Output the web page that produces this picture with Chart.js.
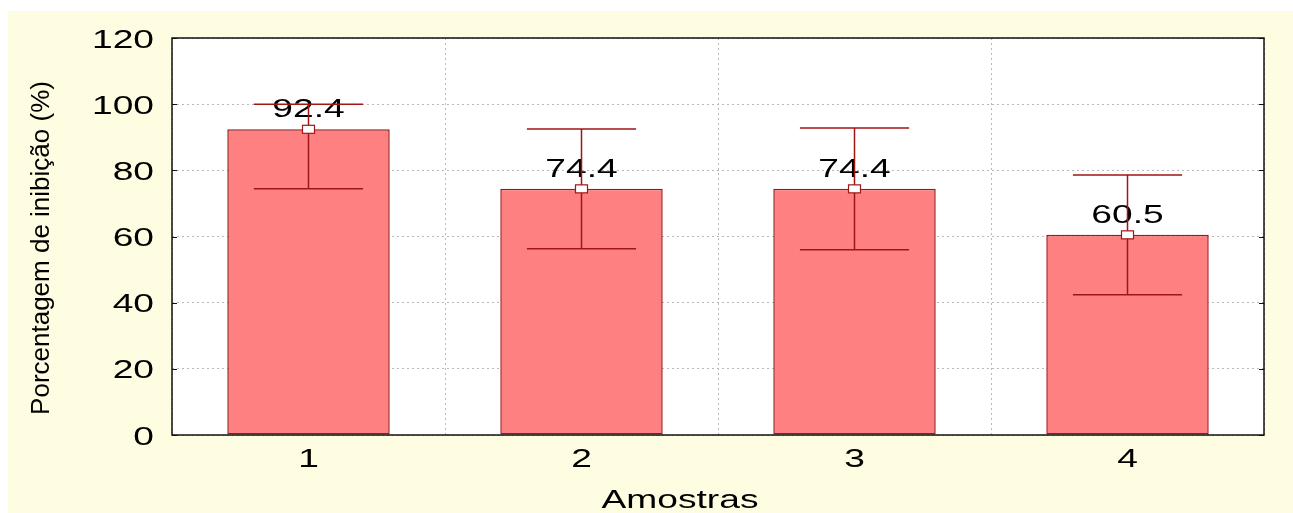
<!DOCTYPE html>
<html>
<head>
<meta charset="utf-8">
<script src="https://cdn.jsdelivr.net/npm/chart.js@4/dist/chart.umd.min.js"></script>
<style>
  html, body { margin: 0; padding: 0; background: #fff; }
  #wrap { width: 1293px; height: 513px; }
</style>
</head>
<body>
<div id="wrap"><canvas id="chart" width="1293" height="513"></canvas></div>
<script>
// sample means with their upper / lower error limits
const categories = ["1", "2", "3", "4"];
const means = [92.4, 74.4, 74.4, 60.5];
const upper = [100, 92.5, 92.8, 78.6];
const lower = [74.4, 56.3, 56.0, 42.4];
const yTicks = [0, 20, 40, 60, 80, 100, 120];
const xTitle = "Amostras";
const yTitle = "Porcentagem de inibição (%)";

const FONT = "Arial, 'Liberation Sans', sans-serif";
const DARK_RED = "#9e1616";
const WIDE = 1.43; // horizontal text stretch

// text drawn with a horizontal stretch, anchored at (x, baseline y)
function wideText(ctx, text, x, y, align) {
  ctx.save();
  ctx.translate(x, y);
  ctx.scale(WIDE, 1);
  ctx.textAlign = align;
  ctx.textBaseline = "alphabetic";
  ctx.fillText(text, 0, 0);
  ctx.restore();
}

// yellow panel, white plot, frame, inner ticks, axis texts
const panelPlugin = {
  id: "panel",
  beforeDraw(chart) {
    const { ctx, width, height, chartArea: a } = chart;
    ctx.save();
    ctx.fillStyle = "#ffffff";
    ctx.fillRect(0, 0, width, height);
    ctx.fillStyle = "#fffde1";
    ctx.fillRect(8, 11, width - 8, height - 11);
    ctx.fillStyle = "#ffffff";
    ctx.fillRect(a.left, a.top, a.right - a.left, a.bottom - a.top);
    ctx.restore();
  },
  afterDraw(chart) {
    const { ctx, chartArea: a, scales } = chart;
    ctx.save();
    ctx.strokeStyle = "#111";
    ctx.lineWidth = 1.5;
    ctx.strokeRect(a.left, a.top, a.right - a.left, a.bottom - a.top);
    ctx.lineWidth = 1;
    ctx.beginPath();
    yTicks.forEach(v => {
      const y = Math.round(scales.y.getPixelForValue(v)) + 0.5;
      ctx.moveTo(a.left, y); ctx.lineTo(a.left + 5, y);
      ctx.moveTo(a.right, y); ctx.lineTo(a.right - 5, y);
    });
    ctx.stroke();

    ctx.fillStyle = "#000";
    ctx.font = "26px " + FONT;
    yTicks.forEach(v => {
      wideText(ctx, String(v), a.left - 18, scales.y.getPixelForValue(v) + 9.5, "right");
    });
    categories.forEach((c, i) => {
      wideText(ctx, c, scales.x.getPixelForValue(i), a.bottom + 32, "center");
    });
    wideText(ctx, xTitle, 680, 508, "center");

    ctx.font = "26px " + FONT;
    ctx.translate(49, 248);
    ctx.rotate(-Math.PI / 2);
    ctx.textAlign = "center";
    ctx.textBaseline = "alphabetic";
    ctx.fillText(yTitle, 0, 0);
    ctx.restore();
  }
};

// value labels, error bars and mean markers
const errorPlugin = {
  id: "errors",
  afterDatasetsDraw(chart) {
    const { ctx, scales } = chart;
    const meta = chart.getDatasetMeta(0);
    const catW = (chart.chartArea.right - chart.chartArea.left) / categories.length;
    const capHalf = catW * 0.2;
    ctx.save();

    ctx.fillStyle = "#000";
    ctx.font = "26px " + FONT;
    meta.data.forEach((bar, i) => {
      wideText(ctx, means[i].toFixed(1), bar.x, bar.y - 12, "center");
    });

    ctx.strokeStyle = DARK_RED;
    ctx.lineWidth = 1.5;
    meta.data.forEach((bar, i) => {
      const yu = scales.y.getPixelForValue(upper[i]);
      const yl = scales.y.getPixelForValue(lower[i]);
      ctx.beginPath();
      ctx.moveTo(bar.x, yu); ctx.lineTo(bar.x, yl);
      ctx.moveTo(bar.x - capHalf, yu); ctx.lineTo(bar.x + capHalf, yu);
      ctx.moveTo(bar.x - capHalf, yl); ctx.lineTo(bar.x + capHalf, yl);
      ctx.stroke();
    });

    ctx.lineWidth = 1.2;
    meta.data.forEach(bar => {
      ctx.fillStyle = "#fff";
      ctx.fillRect(bar.x - 6, bar.y - 4, 12, 8);
      ctx.strokeRect(bar.x - 6, bar.y - 4, 12, 8);
    });
    ctx.restore();
  }
};

new Chart(document.getElementById("chart"), {
  type: "bar",
  data: {
    labels: categories,
    datasets: [{
      data: means,
      backgroundColor: "#ff8080",
      borderColor: DARK_RED,
      borderWidth: 1.5,
      borderSkipped: false,
      barPercentage: 0.595,
      categoryPercentage: 1
    }]
  },
  options: {
    responsive: false,
    animation: false,
    events: [],
    layout: { padding: { left: 8, top: 38, right: 29, bottom: 0 } },
    plugins: { legend: { display: false }, tooltip: { enabled: false } },
    scales: {
      x: {
        grid: { color: "#b8b8b8", drawTicks: false, offset: true },
        border: { display: false, dash: [2, 3] },
        ticks: { display: false },
        afterFit(s) { s.height = 78; }
      },
      y: {
        min: 0, max: 120,
        afterBuildTicks(s) { s.ticks = yTicks.map(v => ({ value: v })); },
        grid: { color: "#b8b8b8", drawTicks: false },
        border: { display: false, dash: [2, 3] },
        ticks: { display: false },
        afterFit(s) { s.width = 164; }
      }
    }
  },
  plugins: [panelPlugin, errorPlugin]
});
</script>
</body>
</html>
